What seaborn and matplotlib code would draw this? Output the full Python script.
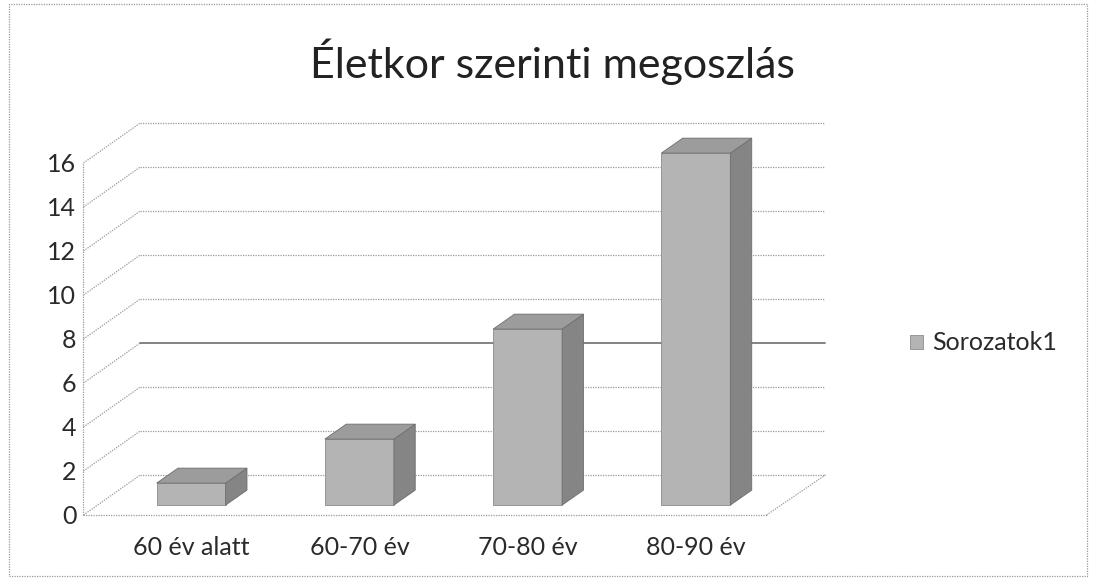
import numpy as np
import pandas as pd
import seaborn as sns
import matplotlib.pyplot as plt
from matplotlib.patches import Polygon, Rectangle

# data
categories = ["60 év alatt", "60-70 év", "70-80 év", "80-90 év"]
values = [1, 3, 8, 16]
yticks = [0, 2, 4, 6, 8, 10, 12, 14, 16]
series_name = "Sorozatok1"
title = "Életkor szerinti megoszlás"

sns.set_style("white")
plt.rcParams["font.family"] = ["Lato", "DejaVu Sans"]

df = pd.DataFrame({"cat": categories, "value": values})

W, H = 1094, 580
fig = plt.figure(figsize=(W / 100, H / 100), dpi=100)
ax = fig.add_axes([107 / W, 65 / H, 673 / W, 352 / H])
ax.set_xlim(-0.64, 3.42)
ax.set_ylim(0, 16)

# pseudo-3D offsets (data units)
wall_dx, wall_dy = 0.338, 1.82
bar_dx, bar_dy = 0.127, 0.68
lift = 0.45
x0, x1 = ax.get_xlim()
xback = 3.77

grid_kw = dict(color="#9a9a9a", lw=0.9, ls=(0, (1, 1)), clip_on=False, zorder=1)
for v in yticks:
    ax.plot([x0, x0 + wall_dx], [v, v + wall_dy], **grid_kw)
    if v == 6:
        ax.plot([x0 + wall_dx, xback], [v + wall_dy] * 2, color="#7a7a7a", lw=1.3,
                clip_on=False, zorder=1)
    elif v > 0:
        ax.plot([x0 + wall_dx, xback], [v + wall_dy] * 2, **grid_kw)
# floor
ax.plot([x0, x1], [0, 0], **grid_kw)
ax.plot([x1, xback], [0, wall_dy], **grid_kw)
ax.plot([x0 + wall_dx, xback], [wall_dy, wall_dy], **grid_kw)
ax.plot([x0, x0], [0, 16], **grid_kw)

sns.barplot(data=df, x="cat", y="value", color="#b4b4b4", width=0.41,
            saturation=1, ax=ax, zorder=3, label=series_name,
            edgecolor="#8c8c8c", linewidth=0.6)
handles, labels = ax.get_legend_handles_labels()
if ax.get_legend() is not None:
    ax.get_legend().remove()

for p in ax.patches:
    p.set_y(lift)
    p.set_clip_on(False)
    bx, bw, bh = p.get_x(), p.get_width(), p.get_height()
    top = lift + bh
    side = Polygon([(bx + bw, lift), (bx + bw + bar_dx, lift + bar_dy),
                    (bx + bw + bar_dx, top + bar_dy), (bx + bw, top)],
                   closed=True, facecolor="#858585", edgecolor="#6e6e6e", lw=0.6,
                   zorder=3, clip_on=False)
    cap = Polygon([(bx, top), (bx + bar_dx, top + bar_dy),
                   (bx + bw + bar_dx, top + bar_dy), (bx + bw, top)],
                  closed=True, facecolor="#9c9c9c", edgecolor="#6e6e6e", lw=0.6,
                  zorder=3, clip_on=False)
    ax.add_patch(side)
    ax.add_patch(cap)

sns.despine(ax=ax, left=True, bottom=True)
ax.set_yticks(yticks)
ax.set_xlabel("")
ax.set_ylabel("")
ax.tick_params(axis="y", length=0, pad=22, labelsize=18, labelcolor="#2a2a2a")
ax.tick_params(axis="x", length=0, pad=15, labelsize=18, labelcolor="#2a2a2a")

fig.text(552 / W, 1 - 62 / H, title, ha="center", va="center", fontsize=31,
         color="#222222")

fig.legend(handles, labels, loc="center left", bbox_to_anchor=(910 / W, 1 - 343 / H),
           frameon=False, fontsize=18, handlelength=0.5, handleheight=0.5,
           handletextpad=0.4, borderpad=0, borderaxespad=0, labelcolor="#2a2a2a")

fig.patches.append(Rectangle((9 / W, 4 / H), 1078 / W, 572 / H, transform=fig.transFigure,
                             fill=False, edgecolor="#9a9a9a", lw=0.9, ls=(0, (1, 1))))

fig.savefig("out.png", dpi=100)
